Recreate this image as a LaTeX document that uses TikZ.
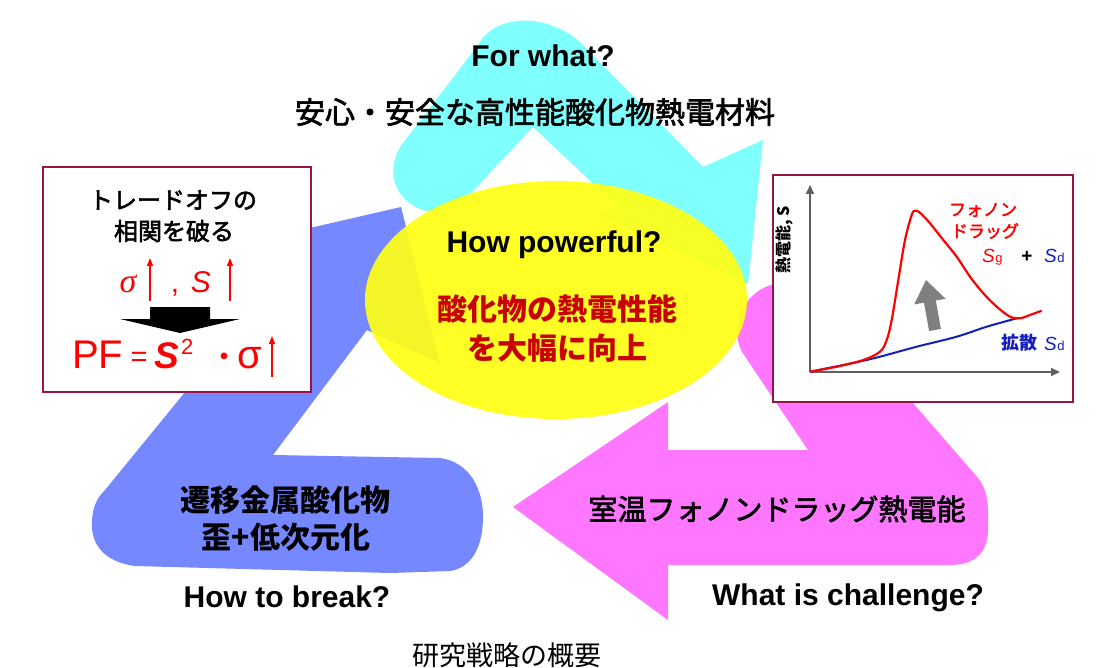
\documentclass[tikz,border=0pt]{standalone}
\usepackage{fontspec}
\setmainfont{Liberation Sans}
\newfontfamily\jp{Noto Sans CJK JP}
\newfontfamily\jpm[FakeBold=2.2]{Noto Sans CJK JP}
\newfontfamily\serifit{Liberation Serif}
\usetikzlibrary{arrows.meta,shapes.geometric}
\definecolor{cyanA}{RGB}{128,255,255}
\definecolor{blueA}{RGB}{117,136,255}
\definecolor{pinkA}{RGB}{255,119,255}
\definecolor{yellowA}{RGB}{255,255,20}
\definecolor{frameC}{RGB}{150,20,70}
\definecolor{darkredT}{RGB}{200,0,0}
\definecolor{axisC}{RGB}{95,95,95}
\definecolor{sdblue}{RGB}{20,30,190}
\definecolor{grayarrow}{RGB}{128,128,128}
\tikzset{
  en/.style={font=\fontsize{30}{36}\selectfont\bfseries, inner sep=0pt},
  jpr/.style={font=\jp\fontsize{#1}{#1}\selectfont, inner sep=0pt},
  jpm/.style={font=\jpm\fontsize{#1}{#1}\selectfont, inner sep=0pt},
  jpb/.style={font=\jp\bfseries\fontsize{#1}{#1}\selectfont, inner sep=0pt},
  framebox/.style={draw=frameC, line width=2.2pt, fill=white, inner sep=0pt},
  redup/.style={draw=red, line width=1.5pt, -{Triangle[length=8pt,width=6pt]}},
  axisline/.style={draw=axisC, line width=1.8pt, -{Triangle[length=9pt,width=8pt]}},
  rtxt/.style={text=red, inner sep=0pt},
}
\begin{document}
\begin{tikzpicture}[x=1pt,y=-1pt]
\useasboundingbox (0,0) rectangle (1113,668);
\fill[white] (0,0) rectangle (1113,668);

% cyan arrow (For what?)
\fill[cyanA] (400,147) -- (478,45) .. controls (495,14) and (545,12) .. (580,42)
  -- (703,167) -- (763,140) -- (748,284) -- (598,214) -- (617,206) -- (533,127)
  -- (458,207) .. controls (440,218) and (410,212) .. (398,190)
  .. controls (390,175) and (393,160) .. (400,147) -- cycle;

% blue arrow (How to break?)
\fill[blueA] (273,455) -- (440,458) .. controls (470,462) and (484,490) .. (483,520)
  .. controls (482,550) and (470,568) .. (450,571) -- (390,573) -- (135,566)
  .. controls (105,562) and (90,545) .. (92,520)
  .. controls (93,505) and (98,497) .. (105,490)
  -- (271,287) -- (197,254) -- (401,207) -- (440,363) -- (367,330) -- cycle;

% pink arrow (What is challenge?)
\fill[pinkA] (668,402) -- (668,450) -- (808,450) -- (742,352)
  .. controls (728,325) and (745,290) .. (775,284)
  .. controls (805,280) and (828,292) .. (842,310)
  -- (913,403) -- (978,478) .. controls (986,488) and (988,500) .. (988,515)
  -- (988,530) .. controls (988,552) and (975,565) .. (950,565)
  -- (668,565) -- (668,620) -- (513,507) -- cycle;

% central ellipse
\node[ellipse, fill=yellowA, fill opacity=0.92, minimum width=382pt, minimum height=238pt, inner sep=0pt] (core) at (556,300) {};
\node[en] (howpow) at (554,245) {How powerful?};
\node[jpb=30, text=darkredT] (core1) at (557,309) {酸化物の熱電性能};
\node[jpb=30, text=darkredT] (core2) at (557,348) {を大幅に向上};

% top texts
\node[en] (forwhat) at (543,56) {For what?};
\node[jpm=30] (anshin) at (535,112) {安心・安全な高性能酸化物熱電材料};

% blue arrow texts
\node[jpb=30] (sen1) at (285,500) {遷移金属酸化物};
\node[jpb=30] (sen2) at (286,537) {歪+低次元化};
\node[en] (howbreak) at (287,597) {How to break?};

% pink arrow texts
\node[jpm=29] (shitsu) at (777,509) {室温フォノンドラッグ熱電能};
\node[en] (whatis) at (848,598) {What is challenge?};

% caption
\node[jpr=27] (caption) at (507,655) {研究戦略の概要};

% trade-off box
\node[framebox, minimum width=268pt, minimum height=225pt] (tradeoff) at (177,279.5) {};
\node[jpm=24] (to1) at (173,200) {トレードオフの};
\node[jpm=24] (to2) at (174,231) {相関を破る};
\node[rtxt, anchor=base, font=\serifit\itshape\fontsize{34}{36}\selectfont] (sig1) at (128,292) {σ};
\node[rtxt, anchor=base, font=\fontsize{30}{36}\selectfont] (comma) at (175,292) {,};
\node[rtxt, anchor=base, font=\itshape\fontsize{30}{36}\selectfont] (S1) at (201,292) {S};
\coordinate (up1b) at (150,301); \coordinate (up1t) at (150,258);
\coordinate (up2b) at (230,301); \coordinate (up2t) at (230,258);
\draw[redup] (up1b) -- (up1t);
\draw[redup] (up2b) -- (up2t);
\fill[black] (150,307) -- (210,307) -- (210,319) -- (240,319) -- (180,333) -- (120,319) -- (150,319) -- cycle;
\node[rtxt, anchor=base west, font=\fontsize{40}{40}\selectfont] (pf) at (72,368) {PF};
\node[rtxt, anchor=base, font=\fontsize{29}{32}\selectfont] (eq) at (139,366) {=};
\node[rtxt, anchor=base west, font=\bfseries\itshape\fontsize{37}{40}\selectfont] (S2) at (154,368) {S};
\node[rtxt, anchor=base west, font=\fontsize{22}{24}\selectfont] (sq) at (181,354) {2};
\node[rtxt, anchor=center, font=\jp\bfseries\fontsize{24}{24}\selectfont] (dot) at (224,359) {・};
\node[rtxt, anchor=base west, font=\fontsize{40}{40}\selectfont] (sig2) at (237,368) {σ};
\coordinate (up3b) at (272,377); \coordinate (up3t) at (272,336);
\draw[redup] (up3b) -- (up3t);

% graph box
\node[framebox, minimum width=300pt, minimum height=227pt] (graph) at (923,288.5) {};
\coordinate (O) at (810,372);
\coordinate (Ytop) at (810,185);
\coordinate (Xend) at (1060,372);
\draw[axisline] (O) -- (Ytop);
\draw[axisline] (O) -- (Xend);
\draw[sdblue, line width=2pt] plot[smooth, tension=0.6] coordinates {(810,371.7) (853,363) (880,356.7) (916.7,346.7) (956.7,336.7) (986.7,326.7) (1018,318)};
\draw[red, line width=2.2pt] plot[smooth, tension=0.55] coordinates {(810,371.7) (836.7,366.7) (863.3,360) (880,351.7) (886.7,340) (891.7,320) (898.3,280) (905,240) (911.7,215) (915,210.7) (920,212.7) (930,223.3) (943.3,240) (956.7,256.7) (970,276.7) (983.3,293.3) (996.7,306.7) (1010,316.7) (1020,318.3) (1030,315) (1041.7,310.7)};
\fill[grayarrow] (940.9,328.9) -- (935.8,300.5) -- (945.6,298.8) -- (926,280) -- (914.2,304.4) -- (924,302.7) -- (929.1,331.1) -- cycle;
\node[jpb=16, rotate=90] (ylab) at (784,240) {熱電能, S};
\node[jpm=17, text=red] (fono) at (983,210) {フォノン};
\node[jpm=17, text=red] (drag) at (985,231) {ドラッグ};
\node[anchor=base west, inner sep=0pt, text=red, font=\itshape\fontsize{19}{20}\selectfont] (Sg) at (982,262) {S\kern0.5pt{\upshape\fontsize{13}{14}\selectfont g}};
\node[anchor=base, inner sep=0pt, font=\bfseries\fontsize{19}{20}\selectfont] (plus) at (1027,262) {+};
\node[anchor=base west, inner sep=0pt, text=sdblue, font=\itshape\fontsize{19}{20}\selectfont] (Sd1) at (1044,262) {S\kern0.5pt{\upshape\fontsize{13}{14}\selectfont d}};
\node[jpb=18, text=sdblue] (kakusan) at (1019,343) {拡散};
\node[anchor=base west, inner sep=0pt, text=sdblue, font=\itshape\fontsize{19}{20}\selectfont] (Sd2) at (1044,350) {S\kern0.5pt{\upshape\fontsize{13}{14}\selectfont d}};
\end{tikzpicture}
\end{document}
